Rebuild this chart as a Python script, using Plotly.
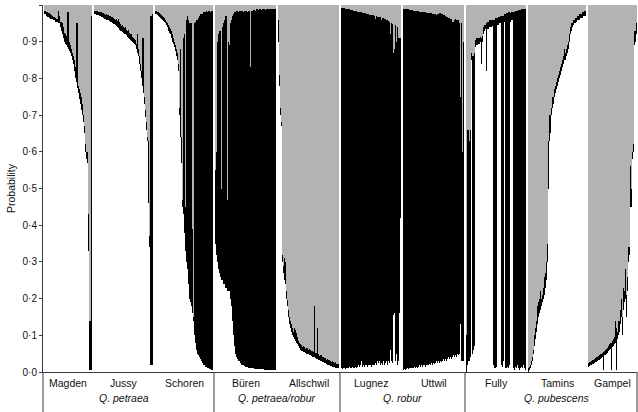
import plotly.graph_objects as go

# ---------------- data ----------------
populations = ["Magden", "Jussy", "Schoren", "Büren", "Allschwil",
               "Lugnez", "Uttwil", "Fully", "Tamins", "Gampel"]
species = ["Q. petraea", "Q. petraea/robur", "Q. robur", "Q. pubescens"]
species_members = [[0, 1, 2], [3, 4], [5, 6], [7, 8, 9]]
species_label_pop = [1, None, None, 8]   # population under which label is centred (None = group centre)

y_tick_values = [0.0, 0.1, 0.2, 0.3, 0.4, 0.5, 0.6, 0.7, 0.8, 0.9, 1.0]
y_tick_labels = ["0·0", "0·1", "0·2", "0·3", "0·4", "0·5", "0·6", "0·7", "0·8", "0·9", "1·0"]

# membership per individual: white cluster, black cluster (grey = remainder)
magden_white = [0.975, 0.975, 0.97, 0.968, 0.966, 0.965, 0.963, 0.962, 0.962, 0.96,
                0.958, 0.955, 0.955, 0.954, 0.952, 0.95, 0.94, 0.93, 0.92, 0.91,
                0.9, 0.895, 0.89, 0.885, 0.88, 0.875, 0.87, 0.86, 0.85, 0.84,
                0.82, 0.8, 0.79, 0.775, 0.76, 0.745, 0.73, 0.715, 0.7, 0.68,
                0.65, 0.6, 0.58, 0.57, 0.33, 0.005, 0.005, 0.005]
magden_black = [0.01, 0.01, 0.01, 0.012, 0.012, 0.012, 0.012, 0.01, 0.008, 0.008,
                0.009, 0.01, 0.008, 0.008, 0.033, 0.02, 0.015, 0.025, 0.03, 0.03,
                0.025, 0.025, 0.025, 0.095, 0.1, 0.025, 0.02, 0.02, 0.02, 0.02,
                0.03, 0.03, 0.16, 0.175, 0.02, 0.025, 0.03, 0.035, 0.03, 0.02,
                0.02, 0.02, 0.02, 0.03, 0.1, 0.135, 0.135, 0.965]

jussy_white = [0.975, 0.975, 0.974, 0.973, 0.972, 0.971, 0.97, 0.968, 0.967, 0.965,
               0.963, 0.962, 0.96, 0.959, 0.958, 0.956, 0.955, 0.953, 0.951, 0.949,
               0.947, 0.945, 0.942, 0.939, 0.936, 0.933, 0.93, 0.928, 0.926, 0.924,
               0.922, 0.92, 0.917, 0.914, 0.911, 0.908, 0.905, 0.902, 0.899, 0.896,
               0.893, 0.89, 0.88, 0.87, 0.86, 0.84, 0.82, 0.8, 0.78, 0.76,
               0.73, 0.695, 0.66, 0.63, 0.46, 0.34, 0.02, 0.02, 0.02]
jussy_black = [0.01, 0.01, 0.01, 0.01, 0.01, 0.01, 0.012, 0.012, 0.012, 0.012,
               0.012, 0.012, 0.015, 0.015, 0.015, 0.015, 0.015, 0.015, 0.015, 0.015,
               0.015, 0.015, 0.02, 0.018, 0.025, 0.02, 0.018, 0.015, 0.02, 0.015,
               0.015, 0.02, 0.015, 0.015, 0.02, 0.015, 0.015, 0.02, 0.015, 0.015,
               0.015, 0.015, 0.015, 0.05, 0.02, 0.02, 0.02, 0.02, 0.13, 0.15,
               0.02, 0.02, 0.02, 0.01, 0.17, 0.03, 0.95, 0.95, 0.955]

schoren_white = [0.975, 0.975, 0.972, 0.97, 0.968, 0.965, 0.962, 0.96, 0.957, 0.955,
                 0.95, 0.945, 0.94, 0.93, 0.925, 0.92, 0.91, 0.9, 0.895, 0.885,
                 0.875, 0.86, 0.85, 0.82, 0.7, 0.64, 0.57, 0.45, 0.43, 0.38,
                 0.33, 0.3, 0.28, 0.24, 0.2, 0.19, 0.18, 0.16, 0.14, 0.1,
                 0.08, 0.06, 0.05, 0.045, 0.04, 0.035, 0.03, 0.025, 0.02, 0.018,
                 0.015, 0.013, 0.012, 0.01, 0.009, 0.008, 0.006, 0.005]
schoren_black = [0.01, 0.01, 0.01, 0.01, 0.01, 0.01, 0.01, 0.01, 0.01, 0.01,
                 0.01, 0.01, 0.01, 0.015, 0.015, 0.015, 0.02, 0.02, 0.015, 0.015,
                 0.015, 0.02, 0.02, 0.02, 0.02, 0.24, 0.07, 0.02, 0.48, 0.54,
                 0.12, 0.66, 0.69, 0.72, 0.75, 0.76, 0.77, 0.23, 0.01, 0.85,
                 0.875, 0.9, 0.91, 0.92, 0.93, 0.94, 0.945, 0.95, 0.96, 0.962,
                 0.965, 0.972, 0.968, 0.975, 0.976, 0.972, 0.979, 0.98]

buren_white = [0.35, 0.32, 0.3, 0.28, 0.27, 0.26, 0.25, 0.25, 0.24, 0.24,
               0.23, 0.23, 0.22, 0.22, 0.22, 0.2, 0.18, 0.14, 0.1, 0.07,
               0.05, 0.04, 0.035, 0.03, 0.03, 0.025, 0.02, 0.02, 0.018, 0.016,
               0.015, 0.014, 0.013, 0.012, 0.011, 0.01, 0.01, 0.01, 0.01, 0.009,
               0.009, 0.009, 0.008, 0.008, 0.008, 0.007, 0.007, 0.007, 0.007, 0.006,
               0.006, 0.006, 0.006, 0.005, 0.005, 0.005, 0.005, 0.005, 0.005, 0.005,
               0.005]
buren_black = [0.2, 0.28, 0.6, 0.64, 0.66, 0.67, 0.25, 0.69, 0.71, 0.72,
               0.74, 0.74, 0.25, 0.68, 0.67, 0.75, 0.78, 0.83, 0.875, 0.91,
               0.93, 0.945, 0.95, 0.95, 0.955, 0.96, 0.965, 0.965, 0.962, 0.969,
               0.97, 0.971, 0.967, 0.973, 0.974, 0.82, 0.975, 0.975, 0.977, 0.978,
               0.976, 0.979, 0.98, 0.978, 0.981, 0.981, 0.979, 0.981, 0.982, 0.982,
               0.98, 0.983, 0.982, 0.984, 0.983, 0.985, 0.984, 0.983, 0.985, 0.984,
               0.985]

allschwil_white = [0.9, 0.78, 0.7, 0.67, 0.3, 0.27, 0.25, 0.24, 0.2, 0.18,
                   0.15, 0.13, 0.12, 0.11, 0.1, 0.095, 0.09, 0.085, 0.08, 0.075,
                   0.07, 0.065, 0.06, 0.058, 0.056, 0.055, 0.054, 0.052, 0.05, 0.05,
                   0.048, 0.047, 0.045, 0.044, 0.042, 0.04, 0.04, 0.038, 0.036, 0.035,
                   0.034, 0.032, 0.03, 0.03, 0.028, 0.026, 0.025, 0.024, 0.022, 0.02,
                   0.02, 0.018, 0.017, 0.016, 0.015, 0.014, 0.013, 0.012, 0.011, 0.01,
                   0.01]
allschwil_black = [0.06, 0.03, 0.02, 0.01, 0.02, 0.02, 0.06, 0.06, 0.02, 0.015,
                   0.02, 0.02, 0.02, 0.02, 0.02, 0.015, 0.03, 0.03, 0.025, 0.02,
                   0.015, 0.015, 0.015, 0.015, 0.012, 0.015, 0.015, 0.012, 0.015, 0.015,
                   0.012, 0.015, 0.015, 0.012, 0.015, 0.015, 0.14, 0.015, 0.015, 0.085,
                   0.015, 0.012, 0.015, 0.015, 0.012, 0.015, 0.012, 0.015, 0.012, 0.015,
                   0.012, 0.015, 0.012, 0.012, 0.015, 0.012, 0.012, 0.015, 0.012, 0.012,
                   0.012]

lugnez_white = [0.01, 0.008, 0.01, 0.012, 0.008, 0.01, 0.012, 0.01, 0.015, 0.012,
                0.01, 0.015, 0.012, 0.01, 0.015, 0.012, 0.015, 0.02, 0.015, 0.02,
                0.03, 0.015, 0.02, 0.015, 0.02, 0.018, 0.015, 0.02, 0.018, 0.02,
                0.015, 0.02, 0.018, 0.02, 0.025, 0.02, 0.03, 0.025, 0.03, 0.02,
                0.025, 0.02, 0.03, 0.02, 0.025, 0.03, 0.02, 0.03, 0.025, 0.06,
                0.03, 0.025, 0.155, 0.16, 0.03, 0.05, 0.02, 0.03, 0.16, 0.42]
lugnez_black = [0.983, 0.984, 0.982, 0.979, 0.982, 0.98, 0.977, 0.978, 0.973, 0.975,
                0.976, 0.971, 0.973, 0.974, 0.969, 0.971, 0.967, 0.962, 0.966, 0.96,
                0.95, 0.964, 0.958, 0.963, 0.957, 0.958, 0.961, 0.955, 0.956, 0.954,
                0.958, 0.952, 0.954, 0.95, 0.937, 0.949, 0.938, 0.943, 0.937, 0.946,
                0.935, 0.945, 0.934, 0.943, 0.937, 0.93, 0.938, 0.926, 0.93, 0.86,
                0.92, 0.923, 0.715, 0.72, 0.915, 0.85, 0.92, 0.88, 0.75, 0.49]

uttwil_white = [0.005, 0.008, 0.006, 0.008, 0.01, 0.008, 0.01, 0.012, 0.01, 0.012,
                0.01, 0.015, 0.012, 0.015, 0.012, 0.015, 0.018, 0.015, 0.02, 0.015,
                0.018, 0.02, 0.015, 0.02, 0.018, 0.02, 0.022, 0.02, 0.025, 0.02,
                0.025, 0.022, 0.025, 0.03, 0.025, 0.03, 0.025, 0.03, 0.028, 0.03,
                0.035, 0.03, 0.035, 0.03, 0.035, 0.04, 0.035, 0.04, 0.035, 0.04,
                0.045, 0.04, 0.045, 0.04, 0.05, 0.045, 0.05, 0.13, 0.03, 0.03,
                0.03]
uttwil_black = [0.985, 0.982, 0.983, 0.981, 0.978, 0.98, 0.977, 0.975, 0.976, 0.974,
                0.975, 0.97, 0.972, 0.969, 0.971, 0.968, 0.964, 0.967, 0.961, 0.966,
                0.962, 0.96, 0.965, 0.959, 0.961, 0.958, 0.956, 0.957, 0.952, 0.956,
                0.951, 0.953, 0.95, 0.944, 0.95, 0.946, 0.953, 0.947, 0.948, 0.945,
                0.939, 0.942, 0.935, 0.938, 0.931, 0.925, 0.93, 0.923, 0.927, 0.915,
                0.91, 0.92, 0.917, 0.92, 0.908, 0.915, 0.9, 0.62, 0.92, 0.57,
                0.87]

fully_white = [0.0, 0.02, 0.03, 0.03, 0.04, 0.85, 0.05, 0.06, 0.07, 0.885,
               0.89, 0.89, 0.895, 0.895, 0.9, 0.84, 0.9, 0.92, 0.93, 0.935,
               0.82, 0.935, 0.935, 0.94, 0.94, 0.94, 0.942, 0.02, 0.01, 0.01,
               0.015, 0.945, 0.945, 0.95, 0.95, 0.02, 0.015, 0.03, 0.955, 0.01,
               0.01, 0.015, 0.01, 0.02, 0.955, 0.958, 0.96, 0.01, 0.005, 0.015,
               0.01, 0.02, 0.01, 0.005, 0.01, 0.015, 0.01, 0.02, 0.01, 0.005]
fully_black = [0.1, 0.64, 0.63, 0.6, 0.62, 0.02, 0.81, 0.8, 0.8, 0.02,
               0.02, 0.02, 0.015, 0.015, 0.012, 0.07, 0.015, 0.02, 0.015, 0.01,
               0.13, 0.02, 0.02, 0.018, 0.018, 0.02, 0.018, 0.94, 0.95, 0.955,
               0.95, 0.02, 0.022, 0.018, 0.02, 0.95, 0.955, 0.94, 0.02, 0.965,
               0.967, 0.963, 0.97, 0.96, 0.022, 0.022, 0.02, 0.972, 0.977, 0.968,
               0.974, 0.965, 0.976, 0.981, 0.977, 0.973, 0.978, 0.968, 0.979, 0.985]

tamins_white = [0.0, 0.005, 0.01, 0.02, 0.03, 0.05, 0.07, 0.09, 0.11, 0.13,
                0.15, 0.16, 0.17, 0.18, 0.19, 0.2, 0.21, 0.23, 0.25, 0.3,
                0.5, 0.63, 0.65, 0.7, 0.72, 0.73, 0.75, 0.76, 0.77, 0.78,
                0.79, 0.8, 0.81, 0.82, 0.83, 0.84, 0.85, 0.85, 0.86, 0.87,
                0.88, 0.9, 0.92, 0.93, 0.94, 0.945, 0.95, 0.95, 0.955, 0.96,
                0.96, 0.96, 0.965, 0.965, 0.965, 0.97, 0.97, 0.97]
tamins_black = [0.01, 0.01, 0.01, 0.01, 0.01, 0.01, 0.03, 0.03, 0.03, 0.05,
                0.04, 0.04, 0.05, 0.02, 0.02, 0.03, 0.05, 0.04, 0.05, 0.05,
                0.13, 0.07, 0.05, 0.02, 0.03, 0.02, 0.02, 0.02, 0.02, 0.02,
                0.02, 0.02, 0.02, 0.02, 0.02, 0.02, 0.03, 0.02, 0.02, 0.02,
                0.02, 0.02, 0.02, 0.02, 0.01, 0.015, 0.01, 0.015, 0.01, 0.01,
                0.01, 0.015, 0.01, 0.01, 0.015, 0.01, 0.015, 0.015]

gampel_white = [0.015, 0.016, 0.018, 0.02, 0.021, 0.022, 0.024, 0.026, 0.028, 0.03,
                0.032, 0.034, 0.036, 0.038, 0.04, 0.005, 0.045, 0.047, 0.05, 0.053,
                0.056, 0.06, 0.063, 0.005, 0.068, 0.072, 0.075, 0.08, 0.005, 0.09,
                0.1, 0.11, 0.13, 0.15, 0.1, 0.17, 0.19, 0.2, 0.15, 0.22,
                0.3, 0.32, 0.45, 0.45, 0.58, 0.6, 0.89, 0.9, 0.92]
gampel_black = [0.01, 0.01, 0.01, 0.01, 0.011, 0.012, 0.012, 0.012, 0.012, 0.012,
                0.012, 0.012, 0.012, 0.012, 0.012, 0.05, 0.013, 0.013, 0.013, 0.013,
                0.014, 0.015, 0.015, 0.075, 0.017, 0.018, 0.02, 0.06, 0.115, 0.02,
                0.04, 0.03, 0.04, 0.05, 0.05, 0.06, 0.03, 0.08, 0.06, 0.04,
                0.04, 0.02, 0.11, 0.05, 0.02, 0.02, 0.04, 0.03, 0.03]

white_by_pop = [magden_white, jussy_white, schoren_white, buren_white, allschwil_white,
                lugnez_white, uttwil_white, fully_white, tamins_white, gampel_white]
black_by_pop = [magden_black, jussy_black, schoren_black, buren_black, allschwil_black,
                lugnez_black, uttwil_black, fully_black, tamins_black, gampel_black]

# ---------------- layout helpers ----------------
GAP = 2
WHITE, BLACK, GREY = "#ffffff", "#000000", "#b3b3b3"
LINE = "#3a3a3a"
FONT = "Liberation Sans, Arial, Helvetica, sans-serif"

xs, ws, bs, gs = [], [], [], []
starts, ends = [], []
pos = 0
for w_list, b_list in zip(white_by_pop, black_by_pop):
    starts.append(pos)
    for w, b in zip(w_list, b_list):
        xs.append(pos)
        ws.append(w)
        bs.append(b)
        gs.append(max(0.0, 1.0 - w - b))
        pos += 1
    ends.append(pos - 1)
    pos += GAP
last = ends[-1]

fig = go.Figure()
for vals, col in [(ws, WHITE), (bs, BLACK), (gs, GREY)]:
    fig.add_trace(go.Bar(x=xs, y=vals, width=0.998, marker=dict(color=col, line=dict(width=0)),
                         hoverinfo="skip", showlegend=False))

annotations = []
for i, name in enumerate(populations):
    annotations.append(dict(x=(starts[i] + ends[i]) / 2, y=-0.030, xref="x", yref="paper",
                            text=name, showarrow=False, xanchor="center", yanchor="middle",
                            font=dict(size=10.5, color="#111", family=FONT)))
for k, sp in enumerate(species):
    mem = species_members[k]
    if species_label_pop[k] is not None:
        p = species_label_pop[k]
        cx = (starts[p] + ends[p]) / 2
    else:
        cx = (starts[mem[0]] + ends[mem[-1]]) / 2
    annotations.append(dict(x=cx, y=-0.071, xref="x", yref="paper",
                            text="<i>" + sp + "</i>", showarrow=False, xanchor="center",
                            yanchor="middle", font=dict(size=10.5, color="#111", family=FONT)))

shapes = []
shapes.append(dict(type="line", xref="paper", yref="paper", x0=0, x1=0, y0=0, y1=-0.12,
                   line=dict(color=LINE, width=1)))
shapes.append(dict(type="line", xref="paper", yref="paper", x0=1, x1=1, y0=0, y1=-0.12,
                   line=dict(color=LINE, width=1)))
for k in range(len(species_members) - 1):
    a = ends[species_members[k][-1]]
    b = starts[species_members[k + 1][0]]
    xm = (a + b) / 2
    shapes.append(dict(type="line", xref="x", yref="paper", x0=xm, x1=xm, y0=0, y1=-0.12,
                       line=dict(color=LINE, width=1)))

fig.update_layout(
    width=638, height=412,
    margin=dict(l=43, r=1, t=5, b=40, pad=0),
    barmode="stack", bargap=0,
    plot_bgcolor="white", paper_bgcolor="white",
    font=dict(family=FONT, size=10, color="#111"),
    annotations=annotations, shapes=shapes,
    xaxis=dict(range=[-1.5, last + 0.5], showgrid=False, zeroline=False, showticklabels=False,
               ticks="", showline=True, linecolor=LINE, linewidth=1, automargin=False),
    yaxis=dict(range=[0, 1], tickvals=y_tick_values, ticktext=y_tick_labels, automargin=False,
               showgrid=False, zeroline=False, showline=True, linecolor=LINE, linewidth=1,
               ticks="outside", ticklen=3, tickcolor=LINE, tickfont=dict(size=10, family=FONT),
               title=dict(text="Probability", font=dict(size=10.5, family=FONT), standoff=4)),
)

fig.write_html("out.html", config={"displayModeBar": False},
               post_script="document.body.style.margin='0';")
